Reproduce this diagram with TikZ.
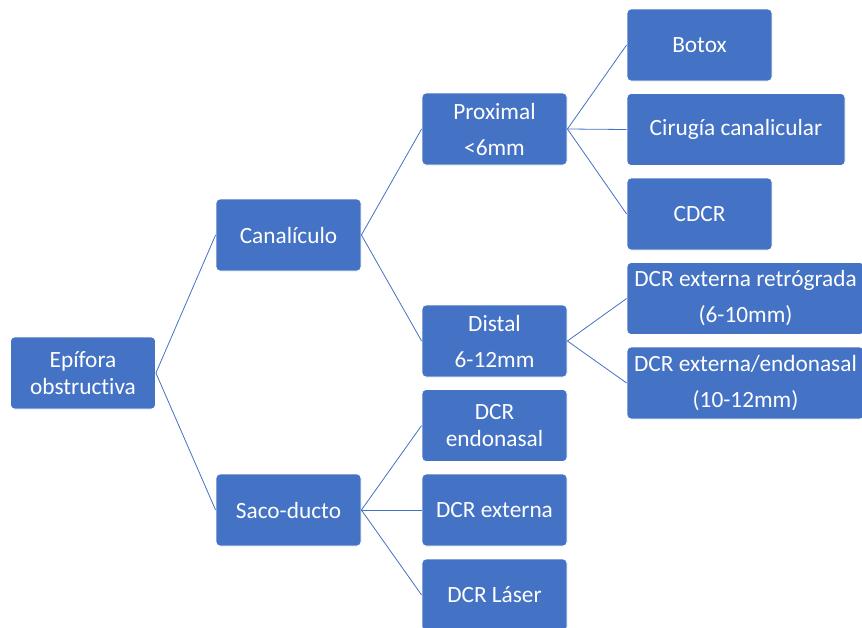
\documentclass[tikz,border=0pt]{standalone}
\usepackage{fontspec}
\setmainfont[Ligatures=NoCommon]{Carlito}
\definecolor{boxblue}{HTML}{4472C4}
\tikzset{
  box/.style={rectangle, rounded corners=4pt, fill=boxblue, draw=white, line width=0.8pt,
    text=white, minimum width=145pt, minimum height=72pt, inner sep=0pt, align=center,
    font=\fontsize{23.3}{27}\selectfont},
  wide/.style={font=\fontsize{23.3}{36}\selectfont},
  conn/.style={draw=boxblue, line width=0.8pt}
}
\begin{document}
\begin{tikzpicture}[x=1pt,y=-1pt]
\useasboundingbox (0,0) rectangle (862,627);
\clip (0,0) rectangle (862,627);
\node[box] (epi) at (83,373) {Epífora\\obstructiva};
\node[box] (can) at (288.5,235) {Canalículo};
\node[box] (saco) at (288.5,510) {Saco-ducto};
\node[box,wide] (prox) at (494.5,129) {Proximal\\<6mm};
\node[box,wide] (dist) at (494.5,341) {Distal\\6-12mm};
\node[box] (endo) at (494.5,425.5) {DCR\\endonasal};
\node[box] (ext) at (494.5,510) {DCR externa};
\node[box] (laser) at (494.5,595) {DCR Láser};
\node[box] (botox) at (699.5,45) {Botox};
\node[box,minimum width=218pt] (cir) at (736,129.5) {Cirugía canalicular};
\node[box] (cdcr) at (699.5,214) {CDCR};
\node[box,wide,minimum width=237pt] (retro) at (745.5,298.5) {DCR externa retrógrada\\(6-10mm)};
\node[box,wide,minimum width=237pt] (extendo) at (745.5,383) {DCR externa/endonasal\\(10-12mm)};
\draw[conn] (epi.east) -- (can.west);
\draw[conn] (epi.east) -- (saco.west);
\draw[conn] (can.east) -- (prox.west);
\draw[conn] (can.east) -- (dist.west);
\draw[conn] (saco.east) -- (endo.west);
\draw[conn] (saco.east) -- (ext.west);
\draw[conn] (saco.east) -- (laser.west);
\draw[conn] (prox.east) -- (botox.west);
\draw[conn] (prox.east) -- (cir.west);
\draw[conn] (prox.east) -- (cdcr.west);
\draw[conn] (dist.east) -- (retro.west);
\draw[conn] (dist.east) -- (extendo.west);
\end{tikzpicture}
\end{document}
